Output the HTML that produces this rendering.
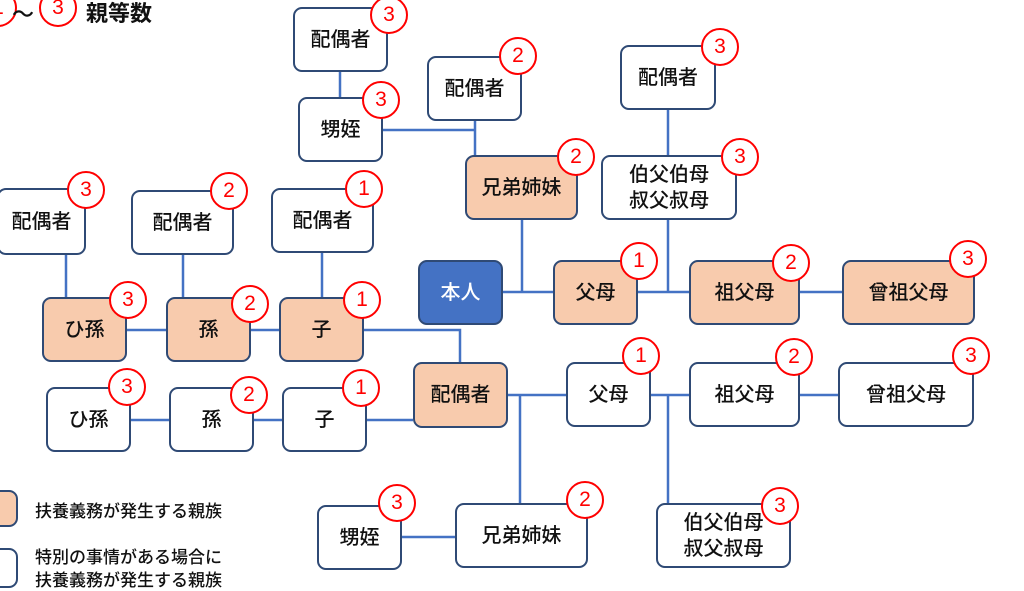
<!DOCTYPE html><html><head><meta charset="utf-8"><style>
body{margin:0;width:1024px;height:576px;overflow:hidden;background:#fff;position:relative;font-family:"Liberation Sans","Noto Sans CJK JP",sans-serif}
.b{position:absolute;box-sizing:border-box;border:2px solid #2f4a75;border-radius:9px;background:#fff;display:flex;align-items:center;justify-content:center;text-align:center;font-size:20px;color:#111;line-height:26px;font-weight:500}
.p{background:#f8cbad}
.c{position:absolute;width:38px;height:38px;box-sizing:border-box;border:2px solid #f00;border-radius:50%;background:#fff;color:#f00;font-size:21px;display:flex;align-items:center;justify-content:center;transform:translate(-50%,-50%)}
svg{position:absolute;left:0;top:0}
.t{position:absolute;font-size:17px;color:#111;white-space:nowrap;font-weight:500}
</style></head><body>
<svg width="1024" height="576"><g stroke="#4472c4" stroke-width="2.5" fill="none">
<path d="M340 72V97M383 130H475M475 121V155M522 220V292H553M503 292H553M668 110V155M668 220V292M638 292H689M800 292H842"/>
<path d="M66 255V297M183 255V297M322 253V297M127 330H166M251 330H279M364 330H460V362"/>
<path d="M131 420H169M254 420H282M367 420H413M508 395H566M520 395V503M651 395H689M668 395V503M800 395H838M402 537H455"/>
</g></svg>
<div class="c" style="left:-2px;top:8px">1</div><div class="t" style="left:12px;top:-3px;font-size:22px">～</div>
<div class="c" style="left:58px;top:8px">3</div><div class="t" style="left:86px;top:-4px;font-size:22px;font-weight:bold">親等数</div>

<div class="b" style="left:293px;top:7px;width:95px;height:65px">配偶者</div><div class="c" style="left:389px;top:15px">3</div>
<div class="b" style="left:298px;top:97px;width:85px;height:65px">甥姪</div><div class="c" style="left:381px;top:100px">3</div>
<div class="b" style="left:427px;top:56px;width:95px;height:65px">配偶者</div><div class="c" style="left:518px;top:56px">2</div>
<div class="b p" style="left:465px;top:155px;width:113px;height:65px">兄弟姉妹</div><div class="c" style="left:576px;top:157px">2</div>
<div class="b" style="left:620px;top:45px;width:96px;height:65px">配偶者</div><div class="c" style="left:720px;top:47px">3</div>
<div class="b" style="left:601px;top:155px;width:136px;height:65px">伯父伯母<br>叔父叔母</div><div class="c" style="left:740px;top:157px">3</div>

<div class="b" style="left:-3px;top:188px;width:89px;height:67px">配偶者</div><div class="c" style="left:86px;top:190px">3</div>
<div class="b" style="left:131px;top:190px;width:103px;height:65px">配偶者</div><div class="c" style="left:229px;top:191px">2</div>
<div class="b" style="left:271px;top:188px;width:103px;height:65px">配偶者</div><div class="c" style="left:364px;top:189px">1</div>

<div class="b" style="left:418px;top:260px;width:85px;height:65px;background:#4472c4;color:#fff">本人</div>
<div class="b p" style="left:553px;top:260px;width:85px;height:65px">父母</div><div class="c" style="left:639px;top:261px">1</div>
<div class="b p" style="left:689px;top:260px;width:111px;height:65px">祖父母</div><div class="c" style="left:791px;top:263px">2</div>
<div class="b p" style="left:842px;top:260px;width:133px;height:65px">曾祖父母</div><div class="c" style="left:968px;top:259px">3</div>

<div class="b p" style="left:42px;top:297px;width:85px;height:65px">ひ孫</div><div class="c" style="left:128px;top:300px">3</div>
<div class="b p" style="left:166px;top:297px;width:85px;height:65px">孫</div><div class="c" style="left:250px;top:304px">2</div>
<div class="b p" style="left:279px;top:297px;width:85px;height:65px">子</div><div class="c" style="left:362px;top:300px">1</div>

<div class="b p" style="left:413px;top:362px;width:95px;height:66px">配偶者</div>
<div class="b" style="left:566px;top:362px;width:85px;height:65px">父母</div><div class="c" style="left:641px;top:356px">1</div>
<div class="b" style="left:689px;top:362px;width:111px;height:65px">祖父母</div><div class="c" style="left:794px;top:357px">2</div>
<div class="b" style="left:838px;top:362px;width:136px;height:65px">曾祖父母</div><div class="c" style="left:971px;top:356px">3</div>

<div class="b" style="left:46px;top:387px;width:85px;height:65px">ひ孫</div><div class="c" style="left:127px;top:387px">3</div>
<div class="b" style="left:169px;top:387px;width:85px;height:65px">孫</div><div class="c" style="left:249px;top:395px">2</div>
<div class="b" style="left:282px;top:387px;width:85px;height:65px">子</div><div class="c" style="left:361px;top:388px">1</div>

<div class="b" style="left:317px;top:505px;width:85px;height:65px">甥姪</div><div class="c" style="left:397px;top:503px">3</div>
<div class="b" style="left:455px;top:503px;width:133px;height:65px">兄弟姉妹</div><div class="c" style="left:585px;top:500px">2</div>
<div class="b" style="left:656px;top:503px;width:135px;height:65px">伯父伯母<br>叔父叔母</div><div class="c" style="left:780px;top:506px">3</div>

<div class="b p" style="left:-20px;top:490px;width:38px;height:37px"></div>
<div class="t" style="left:35px;top:497px">扶養義務が発生する親族</div>
<div class="b" style="left:-20px;top:548px;width:38px;height:40px"></div>
<div class="t" style="left:35px;top:543px">特別の事情がある場合に</div>
<div class="t" style="left:35px;top:566px">扶養義務が発生する親族</div>
</body></html>
